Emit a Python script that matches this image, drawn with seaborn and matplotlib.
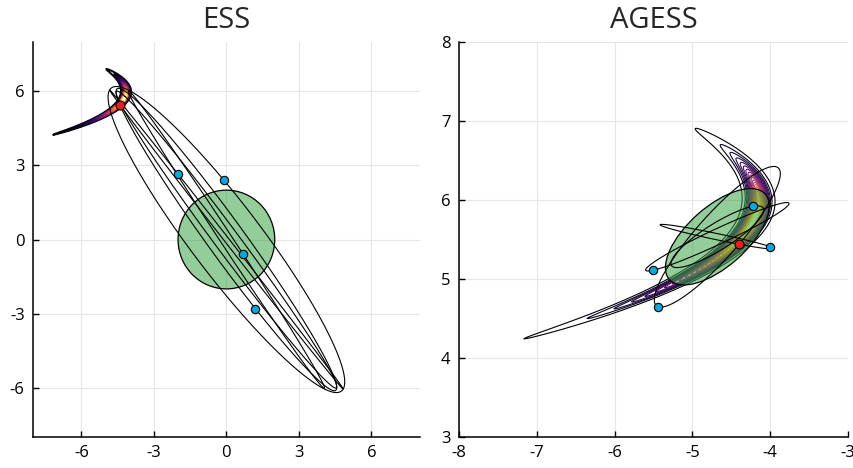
import numpy as np
import matplotlib
matplotlib.use("Agg")
import matplotlib.pyplot as plt
from matplotlib.patches import Ellipse, Circle
import seaborn as sns

# ------------------------------------------------------------
# banana shaped target (ridge x = vx - k (y - vy)^2)
# ------------------------------------------------------------
RIDGE_VERTEX = (-4.15, 6.0)
RIDGE_BEND = 0.975
TARGET_MODE_Y = 5.72
TARGET_SD_Y_BELOW = 0.51
TARGET_SD_Y_ABOVE = 0.41
TARGET_SD_X = 0.075
LEVEL_FRACTIONS = np.linspace(0.015, 0.97, 24)

# ------------------------------------------------------------
# ESS: prior N(0, I*4), ellipses f cos(t) + nu sin(t)
# ------------------------------------------------------------
ess_prior_radius = 2.0
ess_state_x = [-4.4, -3.95, -4.4, -4.0, -4.2]
ess_state_y = [5.45, 6.0, 5.45, 6.0, 5.8]
ess_nu_x = [1.2, 2.89, -2.0, 0.7, 1.8]
ess_nu_y = [-2.8, -1.56, 2.65, -0.6, -1.6]
ess_blue_x = [-2.0, -0.1, 0.7, 1.2]
ess_blue_y = [2.65, 2.4, -0.6, -2.8]
ess_red = (-4.4, 5.45)

# ------------------------------------------------------------
# AGESS: adapted gaussian, ellipses mu + (f-mu) cos(t) + nu sin(t)
# ------------------------------------------------------------
agess_mu = (-4.68, 5.535)
agess_semi_axes = (0.82, 0.38)
agess_angle = 41
agess_state_x = [-4.4, -4.28, -4.4, -4.3]
agess_state_y = [5.44, 5.62, 5.44, 5.6]
agess_nu_x = [0.68, -0.83, -0.76, 0.46]
agess_nu_y = [-0.125, -0.425, -0.885, 0.385]
agess_blue_x = [-4.0, -5.51, -5.44, -4.22]
agess_blue_y = [5.41, 5.11, 4.65, 5.92]
agess_red = (-4.4, 5.44)

BLUE = "#0AA6E0"
RED = "#EE1C1C"
GREEN = "#3BA447"

sns.set_theme(style="white")
plt.rcParams["font.family"] = ["Open Sans", "DejaVu Sans"]
plt.rcParams["axes.unicode_minus"] = False


def target_density(x, y):
    ridge = RIDGE_VERTEX[0] - RIDGE_BEND * (y - RIDGE_VERTEX[1]) ** 2
    sd_y = np.where(y < TARGET_MODE_Y, TARGET_SD_Y_BELOW, TARGET_SD_Y_ABOVE)
    return np.exp(
        -0.5 * ((y - TARGET_MODE_Y) / sd_y) ** 2
        - 0.5 * ((x - ridge) / TARGET_SD_X) ** 2
    )


gx = np.linspace(-8, -3, 700)
gy = np.linspace(3, 8, 700)
GX, GY = np.meshgrid(gx, gy)
Z = target_density(GX, GY)
levels = LEVEL_FRACTIONS * Z.max()

theta = np.linspace(0, 2 * np.pi, 500)


def style_axes(ax, lim_x, lim_y, ticks_x, ticks_y, title):
    ax.set_xlim(*lim_x)
    ax.set_ylim(*lim_y)
    ax.set_xticks(ticks_x)
    ax.set_yticks(ticks_y)
    ax.set_xticklabels([str(t) for t in ticks_x])
    ax.set_yticklabels([str(t) for t in ticks_y])
    ax.grid(True, color="#e6e6e6", linewidth=0.8)
    ax.set_axisbelow(True)
    for side in ["top", "right"]:
        ax.spines[side].set_visible(False)
    for side in ["left", "bottom"]:
        ax.spines[side].set_color("black")
        ax.spines[side].set_linewidth(1.1)
    ax.tick_params(direction="in", length=4, width=1, colors="black",
                   labelsize=12, pad=6, bottom=True, left=True)
    ax.set_title(title, fontsize=21, pad=10)
    ax.set_xlabel("")
    ax.set_ylabel("")


fig = plt.figure(figsize=(8.54, 4.68), dpi=100)
ax1 = fig.add_axes([0.0386, 0.0662, 0.453, 0.844])
ax2 = fig.add_axes([0.5375, 0.0662, 0.4555, 0.844])

# ---------------- ESS ----------------
ax1.contour(GX, GY, Z, levels=levels, cmap="inferno", linewidths=1.4, zorder=1)
ax1.add_patch(Circle((0, 0), ess_prior_radius, facecolor=GREEN, alpha=0.55,
                     edgecolor="none", zorder=2))
ax1.add_patch(Circle((0, 0), ess_prior_radius, facecolor="none",
                     edgecolor="black", linewidth=0.9, zorder=3))
for fx, fy, nx, ny in zip(ess_state_x, ess_state_y, ess_nu_x, ess_nu_y):
    ex = fx * np.cos(theta) + nx * np.sin(theta)
    ey = fy * np.cos(theta) + ny * np.sin(theta)
    sns.lineplot(x=ex, y=ey, sort=False, estimator=None, color="black",
                 linewidth=0.8, ax=ax1, zorder=4)
sns.scatterplot(x=ess_blue_x, y=ess_blue_y, color=BLUE, edgecolor="black",
                s=36, linewidth=0.8, ax=ax1, zorder=5)
sns.scatterplot(x=[ess_red[0]], y=[ess_red[1]], color=RED, edgecolor="black",
                s=42, linewidth=0.8, ax=ax1, zorder=6)
style_axes(ax1, (-8, 8), (-8, 8), [-6, -3, 0, 3, 6], [-6, -3, 0, 3, 6], "ESS")

# ---------------- AGESS ----------------
ax2.contour(GX, GY, Z, levels=levels, cmap="inferno", linewidths=0.8, zorder=1)
ax2.add_patch(Ellipse(agess_mu, 2 * agess_semi_axes[0], 2 * agess_semi_axes[1],
                      angle=agess_angle, facecolor=GREEN, alpha=0.55,
                      edgecolor="none", zorder=2))
ax2.add_patch(Ellipse(agess_mu, 2 * agess_semi_axes[0], 2 * agess_semi_axes[1],
                      angle=agess_angle, facecolor="none", edgecolor="black",
                      linewidth=0.9, zorder=3))
for fx, fy, nx, ny in zip(agess_state_x, agess_state_y, agess_nu_x, agess_nu_y):
    ex = agess_mu[0] + (fx - agess_mu[0]) * np.cos(theta) + nx * np.sin(theta)
    ey = agess_mu[1] + (fy - agess_mu[1]) * np.cos(theta) + ny * np.sin(theta)
    sns.lineplot(x=ex, y=ey, sort=False, estimator=None, color="black",
                 linewidth=0.8, ax=ax2, zorder=4)
sns.scatterplot(x=agess_blue_x, y=agess_blue_y, color=BLUE, edgecolor="black",
                s=36, linewidth=0.8, ax=ax2, zorder=5)
sns.scatterplot(x=[agess_red[0]], y=[agess_red[1]], color=RED, edgecolor="black",
                s=42, linewidth=0.8, ax=ax2, zorder=6)
style_axes(ax2, (-8, -3), (3, 8), [-8, -7, -6, -5, -4, -3], [3, 4, 5, 6, 7, 8],
           "AGESS")

fig.savefig("out.png", dpi=100)
